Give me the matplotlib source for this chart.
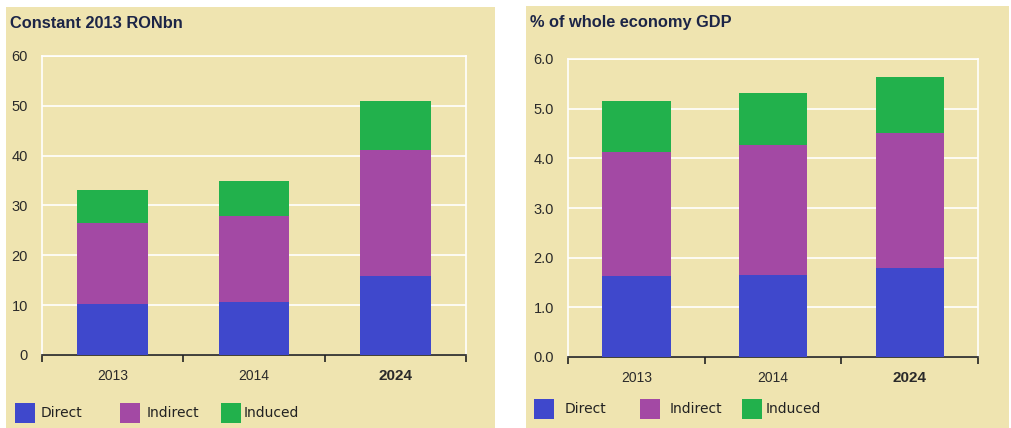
import matplotlib
matplotlib.use("Agg")
import numpy as np
import matplotlib.pyplot as plt
from matplotlib.patches import Rectangle

plt.rcParams['font.family'] = ['Liberation Sans', 'DejaVu Sans']

years = ['2013', '2014', '2024']
series = ['Direct', 'Indirect', 'Induced']

# Constant 2013 RONbn
ron_direct = [10.2, 10.6, 15.9]
ron_indirect = [16.3, 17.2, 25.2]
ron_induced = [6.6, 7.1, 9.9]

# % of whole economy GDP
gdp_direct = [1.63, 1.66, 1.80]
gdp_indirect = [2.50, 2.61, 2.72]
gdp_induced = [1.02, 1.04, 1.11]

colors = ['#3F48CC', '#A349A4', '#22B14C']
bg = '#EFE4B0'
W, H = 1011, 428

fig = plt.figure(figsize=(W / 100, H / 100), dpi=100)


def px_rect(x0, y0, x1, y1):
    # pixel box (top-left origin) -> figure fraction
    return [x0 / W, 1 - y1 / H, (x1 - x0) / W, (y1 - y0) / H]


def panel(box, axbox, data, ylim, step, fmt, title, legend_x, legend_y):
    x0, y0, x1, y1 = box
    fig.patches.append(Rectangle((x0 / W, 1 - y1 / H), (x1 - x0) / W, (y1 - y0) / H,
                                 transform=fig.transFigure, facecolor=bg,
                                 edgecolor='none', zorder=-5))
    fig.text((x0 + 4) / W, 1 - 23 / H, title, fontsize=11.8, fontweight='bold',
             color='#1c2547', va='center', ha='left')

    ax = fig.add_axes(px_rect(*axbox))
    ax.set_facecolor(bg)
    ax.set_zorder(2)
    x = np.arange(len(years))
    bottom = np.zeros(len(years))
    for vals, c in zip(data, colors):
        ax.bar(x, vals, width=0.5, bottom=bottom, color=c, edgecolor='none', zorder=3)
        bottom += np.array(vals)

    ax.set_xlim(-0.5, len(years) - 0.5)
    ax.set_ylim(*ylim)
    ax.set_yticks(np.arange(ylim[0], ylim[1] + step / 2, step))
    ax.yaxis.set_major_formatter(plt.FuncFormatter(lambda v, p: fmt.format(v)))
    ax.yaxis.grid(True, color='white', lw=1.2)
    ax.set_axisbelow(True)
    ax.tick_params(axis='y', length=0, pad=10, labelsize=10.5, labelcolor='#2a2a2a')

    ax.set_xticks(x)
    ax.set_xticklabels(years)
    ax.tick_params(axis='x', length=0, pad=10, labelsize=10, labelcolor='#2a2a2a')
    ax.get_xticklabels()[-1].set_fontweight('bold')
    ax.get_xticklabels()[-1].set_fontsize(11)
    ax.set_xticks(np.arange(-0.5, len(years)), minor=True)
    ax.tick_params(axis='x', which='minor', length=5, width=1.2, color='#222222')

    for s in ['left', 'right', 'top']:
        ax.spines[s].set_color('white')
        ax.spines[s].set_linewidth(1.2)
    ax.spines['bottom'].set_color('#222222')
    ax.spines['bottom'].set_linewidth(1.2)

    # legend row
    for name, c, (sx, tx) in zip(series, colors, legend_x):
        fig.patches.append(Rectangle((sx / W, 1 - (legend_y + 10) / H), 20 / W, 20 / H,
                                     transform=fig.transFigure, facecolor=c,
                                     edgecolor='none', zorder=2))
        fig.text(tx / W, 1 - legend_y / H, name, fontsize=10, color='#222222',
                 family='DejaVu Sans', va='center', ha='left')
    return ax


panel((6, 7, 495, 428), (42, 56, 466, 355),
      [ron_direct, ron_indirect, ron_induced], (0, 60), 10, '{:.0f}',
      'Constant 2013 RONbn', [(15, 41), (120, 147), (221, 244)], 413)

panel((526, 6, 1009, 428), (568, 59, 978, 357),
      [gdp_direct, gdp_indirect, gdp_induced], (0, 6), 1, '{:.1f}',
      '% of whole economy GDP', [(534, 565), (640, 670), (742, 766)], 409)

fig.savefig('out.png', dpi=100, facecolor='white')
